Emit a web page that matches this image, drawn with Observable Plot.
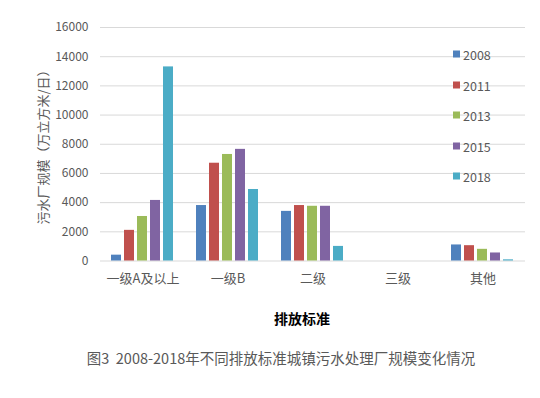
<!DOCTYPE html>
<html><head><meta charset="utf-8">
<script src="https://cdn.jsdelivr.net/npm/d3@7"></script>
<script src="https://cdn.jsdelivr.net/npm/@observablehq/plot@0.6"></script>
<style>
body{margin:0;background:#fff;}
#wrap{position:relative;width:540px;height:398px;font-family:"Noto Sans CJK SC","Noto Sans",sans-serif;color:#595959;overflow:hidden;}
#wrap svg{position:absolute;left:0;top:0;}
.ylab{position:absolute;left:42px;top:144px;transform:translate(-50%,-50%) rotate(-90deg);white-space:nowrap;font-size:13px;color:#595959;}
.xlab{position:absolute;left:302px;top:318px;transform:translate(-50%,-50%);font-size:14px;font-weight:bold;color:#000;white-space:nowrap;}
.cap{position:absolute;left:281px;top:357px;transform:translate(-50%,-50%);font-size:14.5px;color:#595959;white-space:pre;}
.leg{position:absolute;left:453px;font-size:12.5px;color:#595959;display:flex;align-items:center;transform:translateY(-50%);}
.leg i{display:inline-block;width:7px;height:7px;margin-right:3px;}
</style></head><body><div id="wrap"></div>
<script>
const categories = ["一级A及以上", "一级B", "二级", "三级", "其他"];
const years = ["2008", "2011", "2013", "2015", "2018"];
const v2008 = [400, 3800, 3400, 0, 1100];
const v2011 = [2100, 6700, 3800, 0, 1050];
const v2013 = [3050, 7300, 3750, 0, 800];
const v2015 = [4150, 7650, 3750, 0, 550];
const v2018 = [13300, 4900, 1000, 0, 80];
const yTicks = [0, 2000, 4000, 6000, 8000, 10000, 12000, 14000, 16000];
const colors = ["#4f81bd", "#c0504d", "#9bbb59", "#8064a2", "#4bacc6"];
const yTitle = "污水厂规模（万立方米/日）";
const xTitle = "排放标准";
const caption = "图3  2008-2018年不同排放标准城镇污水处理厂规模变化情况";

const series = [v2008, v2011, v2013, v2015, v2018];
const data = [];
categories.forEach((c, i) => years.forEach((y, j) => data.push({category: c, year: y, value: series[j][i]})));

const font = '"Noto Sans CJK SC","Noto Sans",sans-serif';
const chart = Plot.plot({
  width: 540, height: 290,
  marginLeft: 100, marginRight: 15, marginTop: 27, marginBottom: 29.5,
  style: {fontFamily: font, fontSize: "12px", color: "#595959", background: "transparent", overflow: "visible"},
  fx: {domain: categories, padding: 0, label: null, tickSize: 0, tickPadding: 12.5, axis: "bottom"},
  x: {domain: years, axis: null, paddingInner: 0.208, paddingOuter: 0.873},
  y: {domain: [0, 16000], ticks: yTicks, tickSize: 0, tickPadding: 12, label: null, tickFormat: d => String(d)},
  color: {domain: years, range: colors},
  marks: [
    Plot.ruleY(yTicks, {stroke: "#d9d9d9", strokeWidth: 1}),
    Plot.barY(data, {fx: "category", x: "year", y: "value", fill: "year"})
  ]
});
const wrap = document.getElementById("wrap");
wrap.appendChild(chart);
chart.querySelectorAll('[aria-label="fx-axis"] text, [aria-label="fx-axis tick label"] text').forEach(t => t.setAttribute("font-size", "13px"));

const yl = document.createElement("div"); yl.className = "ylab"; yl.textContent = yTitle; wrap.appendChild(yl);
const xl = document.createElement("div"); xl.className = "xlab"; xl.textContent = xTitle; wrap.appendChild(xl);
const cp = document.createElement("div"); cp.className = "cap"; cp.textContent = caption; wrap.appendChild(cp);

const color = chart.scale("color");
const rowY = d3.scaleLinear().domain([0, years.length - 1]).range([54, 176]);
years.forEach((y, i) => {
  const d = document.createElement("div"); d.className = "leg";
  d.style.top = rowY(i) + "px";
  const sw = document.createElement("i"); sw.style.background = color.apply(y);
  d.appendChild(sw); d.appendChild(document.createTextNode(y));
  wrap.appendChild(d);
});
</script></body></html>
